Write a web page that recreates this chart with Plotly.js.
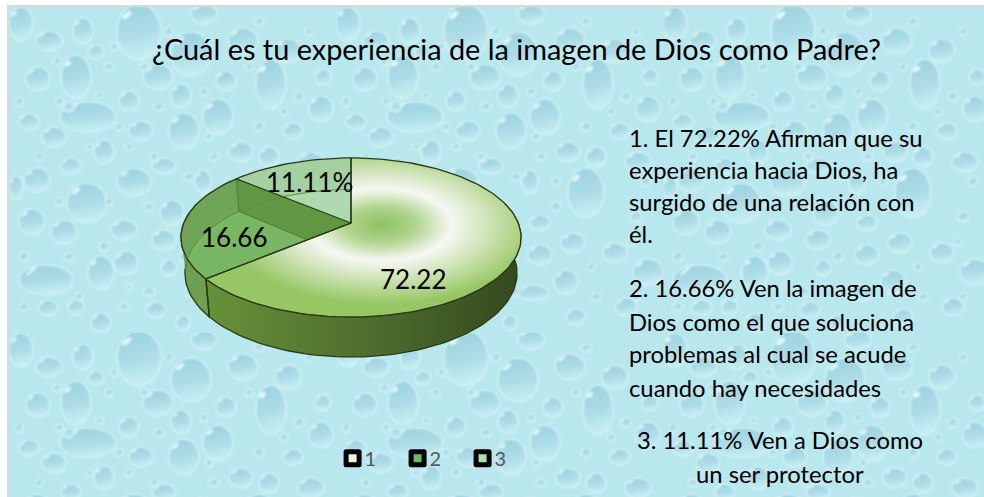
<!DOCTYPE html>
<html><head><meta charset="utf-8">
<script src="https://cdn.plot.ly/plotly-3.0.1.min.js"></script>
<style>
html,body{margin:0;padding:0;width:984px;height:497px;background:#fff;overflow:hidden}
#frame{position:absolute;left:7px;top:5px;width:977px;height:492px;background:#d9d9d9}
#tex{position:absolute;left:9px;top:7px;width:975px;height:490px;background-color:#b9e7ee;background-repeat:repeat;background-size:327px 326px}
#chart{position:absolute;left:0;top:0;width:984px;height:497px}
.legendpoints path{stroke-linejoin:round}
</style></head><body>
<div id="frame"></div><div id="tex"></div><div id="chart"></div>
<script>
// ---------- chart content ----------
const sliceNames  = ["1", "2", "3"];
const sliceShares = [63.9, 22.2, 13.9];          // swept area
const sliceLabels = ["72.22", "16.66", "11.11%"];
const titleText = "¿Cuál es tu experiencia de la imagen de Dios como Padre?";
const noteLinesA = ["1. El 72.22% Afirman que su", "experiencia hacia Dios, ha", "surgido de una relación con", "él."];
const noteLinesB = ["2. 16.66% Ven la imagen de", "Dios como el que soluciona", "problemas al cual se acude", "cuando hay necesidades"];
const noteLinesC = ["3. 11.11% Ven a Dios como", "un ser protector"];
const legendFills = ["#eef5e2", "#70b860", "#b2dcb5"];

// ---------- background droplets (tile of the texture): cx, cy, rx, ry ----------
const drops = [[130,25,22,28],[182,47,20,22],[67,70,15,22],[79,110,28,15],[209,110,15,18],[175,124,15,18],[262,77,15,25],[234,34,15,13],[149,70,15,13],[279,44,13,12],[12,17,12,17],[40,34,13,10],[74,24,10,13],[29,72,12,12],[120,94,10,10],[172,89,10,12],[217,74,10,10],[312,102,12,13],[132,124,12,10],[95,145,10,12],[45,130,12,10],[20,115,10,8],[232,145,12,10],[260,150,10,10],[302,155,13,10],[62,159,10,8],[155,159,12,8],[284,124,10,8],[87,45,8,7],[195,7,13,10],[314,70,8,8],
[28,173,13,12],[78,196,20,20],[23,215,13,13],[55,225,13,12],[115,223,13,10],[125,175,17,14],[37,273,27,15],[92,266,13,17],[117,256,12,12],[155,233,12,10],[163,206,12,13],[160,261,8,8],[7,181,7,12],
[250,186,18,25],[237,236,12,10],[204,248,12,10],[279,246,12,10],[230,275,12,12],[194,175,8,12],[204,216,10,8],[312,265,15,13],[197,286,15,8],
[39,301,10,8],[67,300,8,8],[92,316,10,10],[147,303,10,8],[174,316,7,8],[240,310,10,8],[290,300,11,9],
[100,60,4,4],[150,100,5,4],[110,120,4,4],[60,100,5,5],[205,150,5,4],[250,120,5,5],[290,90,5,5],[30,150,4,4],[145,150,4,4],[95,240,5,5],[140,285,6,5],[60,250,5,4],[180,170,5,4],[300,210,6,5],[220,200,5,5],[175,250,5,5],[260,290,5,4],[115,300,5,4],[310,175,5,5],[15,250,5,5],
[105,40,4,4],[160,25,4,5],[48,55,4,4],[90,88,4,3],[135,60,4,4],[195,85,4,4],[240,60,4,4],[300,25,4,4],[250,15,5,4],[50,95,4,4],[120,140,4,4],[200,130,4,4],[275,105,4,4],[80,140,4,3],[10,95,4,5],[140,200,5,4],[100,195,4,4],[50,195,4,4],[220,175,4,4],[295,235,4,4],[255,260,4,4],[180,285,4,4],[70,290,4,4],[120,280,3,3],[300,290,4,4],[15,300,5,4]];
let svg = '<svg xmlns="http://www.w3.org/2000/svg" width="327" height="326"><defs>' +
 '<linearGradient id="g" x1="0.3" y1="0" x2="0.5" y2="1"><stop offset="0" stop-color="#9bd2df"/><stop offset="0.55" stop-color="#aedde7"/><stop offset="1" stop-color="#c8eff4"/></linearGradient>' +
 '<filter id="b"><feGaussianBlur stdDeviation="0.9"/></filter></defs><g filter="url(#b)">';
drops.forEach(d => {
  svg += `<ellipse cx="${d[0]}" cy="${d[1]}" rx="${d[2]}" ry="${d[3]}" fill="url(#g)" stroke="#cff3f6" stroke-width="1.6"/>`;
  svg += `<ellipse cx="${d[0]-d[2]*0.55}" cy="${d[1]-d[3]*0.6}" rx="${Math.max(1,d[2]*0.25)}" ry="${Math.max(.6,d[3]*0.09)}" fill="#e2f8fa" transform="rotate(-40 ${d[0]-d[2]*0.55} ${d[1]-d[3]*0.6})"/>`;
});
svg += '</g></svg>';
document.getElementById('tex').style.backgroundImage = 'url("data:image/svg+xml,' + encodeURIComponent(svg) + '")';

// ---------- perspective projection of the 3-D disc ----------
const k = 0.182;
const topDisc = {cx:351, cy:223, a:76.9, b:167.2};
const botDisc = {cx:351, cy:258, a:81.0, b:163.3};
function P(disc, deg, r){
  r = r === undefined ? 1 : r;
  const t = deg*Math.PI/180, u = r*Math.sin(t), v = -r*Math.cos(t), w = 1-k*v;
  return [disc.cx + disc.b*u/w, disc.cy + disc.a*v/w];
}
function arc(disc, a0, a1){ const o=[]; const n=Math.max(2,Math.ceil(Math.abs(a1-a0)/2));
  for(let i=0;i<=n;i++) o.push(P(disc, a0+(a1-a0)*i/n)); return o; }
const total = sliceShares.reduce((a,b)=>a+b,0);
const ang = [0]; sliceShares.forEach(s => ang.push(ang[ang.length-1]+s/total*360));
const apex = P(topDisc,0,0), botApex = P(botDisc,0,0);
function cross(p1,p2,p3,p4){ const d=(p1[0]-p2[0])*(p3[1]-p4[1])-(p1[1]-p2[1])*(p3[0]-p4[0]);
  const a=p1[0]*p2[1]-p1[1]*p2[0], b=p3[0]*p4[1]-p3[1]*p4[0];
  return [(a*(p3[0]-p4[0])-(p1[0]-p2[0])*b)/d,(a*(p3[1]-p4[1])-(p1[1]-p2[1])*b)/d]; }
const traces = [];
function poly(pts, opt){
  traces.push(Object.assign({type:'scatter', mode:'lines', x:pts.map(p=>p[0]), y:pts.map(p=>p[1]),
    hoverinfo:'skip', showlegend:false, line:{width:0}}, opt));
}
const closed = pts => pts.concat([pts[0]]);
const edge = '#2a3a14';

// side wall of slice 1
poly(closed(arc(topDisc,75,ang[1]).concat(arc(botDisc,ang[1],75))), {fill:'toself',
  fillgradient:{type:'horizontal',colorscale:[[0,'#67913a'],[0.5,'#4f6f2e'],[1,'#34481e']]}, line:{color:edge,width:1.3}});
// side wall of slice 2
poly(closed(arc(topDisc,ang[1],285).concat(arc(botDisc,285,ang[1]))), {fill:'toself', fillcolor:'#6f9f50', line:{color:edge,width:1.3}});
// top of slices 2 and 3 (translucent look)
poly(closed([apex].concat(arc(topDisc,ang[1],ang[2]))), {fill:'toself', fillcolor:'#7ab765'});
poly(closed([apex].concat(arc(topDisc,ang[2],ang[3]))), {fill:'toself', fillcolor:'#afdab0'});
// inner back-wall bands seen through the top
poly(closed(arc(topDisc,262,ang[2]).concat(arc(botDisc,ang[2],262))), {fill:'toself', fillcolor:'#6ea556'});
poly(closed(arc(topDisc,ang[2],ang[3]).concat(arc(botDisc,ang[3],ang[2]))), {fill:'toself', fillcolor:'#a4d0a2'});
// inner wall between slices 2 and 3, cut by the front edge of slice 2
const outer1 = P(topDisc,ang[1]), t2 = P(topDisc,ang[2]), b2 = P(botDisc,ang[2]);
const cut = cross(b2,botApex,apex,outer1);
poly(closed([t2,apex,cut,b2]), {fill:'toself', fillcolor:'#619643'});
poly(arc(botDisc,262,ang[3]), {line:{color:'#5f8c45',width:1}});
poly([t2,b2,cut], {line:{color:'#4f7d38',width:1}});
// top of slice 1
poly(closed([apex].concat(arc(topDisc,ang[0],ang[1]))), {fill:'toself',
  fillgradient:{type:'radial',colorscale:[[0,'#8fc064'],[0.22,'#b0d48e'],[0.45,'#f6f8f3'],[0.65,'#d5e6c0'],[0.9,'#a8d07c'],[1,'#97c665']]},
  line:{color:edge,width:1.3}});
// outlines
poly(arc(topDisc,ang[1],ang[3]), {line:{color:edge,width:1.3}});
poly([P(topDisc,ang[3]),apex,outer1], {line:{color:edge,width:1.3}});
poly([apex,t2], {line:{color:edge,width:1.3}});
poly([outer1,P(botDisc,ang[1])], {line:{color:edge,width:1.3}});

// legend entries
sliceNames.forEach((n,i)=>traces.push({type:'scatter',mode:'markers',x:[null],y:[null],name:n,showlegend:true,hoverinfo:'skip',
  marker:{symbol:'square',size:13,color:legendFills[i],line:{color:'#000',width:5}}}));

// ---------- text ----------
const ann = [];
function T(text,x,y,size,anchor,color){ ann.push({text,x,y,xref:'x',yref:'y',showarrow:false,xanchor:anchor||'left',yanchor:'middle',
  font:{family:'Lato, Carlito, sans-serif',size,color:color||'#000'}}); }
T(titleText,516,48,28.9,'center');
const yA=[138,170,202,234], yB=[288,322,354,388], yC=[440,474];
noteLinesA.forEach((s,i)=>T(s,627,yA[i],23.8));
noteLinesB.forEach((s,i)=>T(s,627,yB[i],23.8));
noteLinesC.forEach((s,i)=>T(s,780,yC[i],23.8,'center'));
T(sliceLabels[0],413,279,26,'center');
T(sliceLabels[1],234,237,26,'center');
T(sliceLabels[2],309,182,26,'center');

Plotly.newPlot('chart',traces,{
  width:984,height:497,margin:{l:0,r:0,t:0,b:0},paper_bgcolor:'rgba(0,0,0,0)',plot_bgcolor:'rgba(0,0,0,0)',
  xaxis:{range:[0,984],visible:false,fixedrange:true},
  yaxis:{range:[497,0],visible:false,fixedrange:true},
  annotations:ann,
  legend:{orientation:'h',x:0.338,xanchor:'left',y:0.078,yanchor:'middle',entrywidth:20,entrywidthmode:'pixels',
    bgcolor:'rgba(0,0,0,0)',font:{family:'Lato, Carlito, sans-serif',size:20,color:'#595959'},itemwidth:30}
},{displayModeBar:false,staticPlot:true}).then(()=>{
  // centre of the radial sheen on slice 1 sits right of and above the box centre
  document.querySelectorAll('#chart radialGradient').forEach(g=>{g.setAttribute('cx','0.556');g.setAttribute('cy','0.42');g.setAttribute('fx','0.556');g.setAttribute('fy','0.42');g.setAttribute('r','0.5');});
  document.querySelectorAll('#chart .legendtext').forEach(t=>{t.setAttribute('transform','translate(-8,0)');});
});
</script></body></html>
